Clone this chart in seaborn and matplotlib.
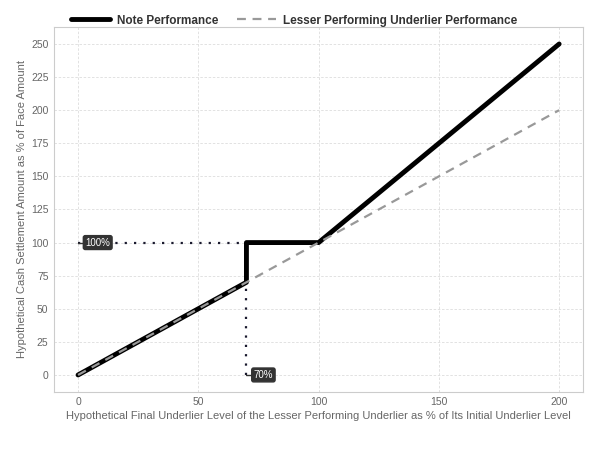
import numpy as np
import pandas as pd
import matplotlib
matplotlib.use("Agg")
import matplotlib.pyplot as plt
import seaborn as sns

# data
underlier_x = [0, 70, 70, 100, 200]
note_y = [0, 70, 100, 100, 250]
underlier_line_x = [0, 200]
underlier_line_y = [0, 200]
barrier_level = 70
face_level = 100
x_ticks = [0, 50, 100, 150, 200]
y_ticks = [0, 25, 50, 75, 100, 125, 150, 175, 200, 225, 250]

sns.set_style("whitegrid")
plt.rcParams['font.family'] = ['Arial', 'Liberation Sans', 'DejaVu Sans']

note_df = pd.DataFrame({"x": underlier_x, "y": note_y})
under_df = pd.DataFrame({"x": underlier_line_x, "y": underlier_line_y})

fig, ax = plt.subplots(figsize=(6, 4.5), dpi=100)
fig.subplots_adjust(left=0.09, right=0.972, top=0.939, bottom=0.13)

# dotted guide lines
ax.plot([0, barrier_level], [face_level, face_level], linestyle=(0, (1, 3.2)), color="#1a1a2e", lw=1.6, zorder=2)
ax.plot([barrier_level, barrier_level], [0, barrier_level], linestyle=(0, (1, 3.2)), color="#1a1a2e", lw=1.6, zorder=2)

sns.lineplot(data=note_df, x="x", y="y", sort=False, estimator=None, color="black", lw=3.5, ax=ax,
             label="Note Performance", zorder=3)
sns.lineplot(data=under_df, x="x", y="y", sort=False, estimator=None, color="#999999", lw=1.6, ax=ax,
             label="Lesser Performing Underlier Performance", zorder=4)
ax.lines[-1].set_dashes((4, 3))

box = dict(boxstyle="round,pad=0.2", fc="#333333", ec="#333333")
ax.text(3, face_level, "100%", color="white", fontsize=7, va="center", ha="left", bbox=box, zorder=5)
ax.text(barrier_level + 3, 0, "70%", color="white", fontsize=7, va="center", ha="left", bbox=box, zorder=5)
ax.plot([0, 2.5], [face_level, face_level], color="#333333", lw=1, zorder=5)
ax.plot([barrier_level, barrier_level + 2.5], [0, 0], color="#333333", lw=1, zorder=5)

ax.set_xlim(-10, 210)
ax.set_ylim(-12.5, 262.5)
ax.set_xticks(x_ticks)
ax.set_yticks(y_ticks)
ax.tick_params(axis="both", labelsize=7.5, colors="#666666", length=0, pad=4)
ax.set_xlabel("Hypothetical Final Underlier Level of the Lesser Performing Underlier as % of Its Initial Underlier Level",
              fontsize=8, color="#666666", labelpad=3)
ax.set_ylabel("Hypothetical Cash Settlement Amount as % of Face Amount", fontsize=8, color="#666666", labelpad=3)
ax.grid(True, color="#dddddd", linestyle=(0, (3, 2)), lw=0.6)
for s in ax.spines.values():
    s.set_color("#cccccc")
    s.set_linewidth(0.8)

ax.legend(loc="lower left", bbox_to_anchor=(0.018, 0.983), ncol=2, frameon=False,
          prop={"weight": "bold", "size": 8.5}, handlelength=3.3, handletextpad=0.6, columnspacing=1.6,
          borderaxespad=0.2, labelcolor="#333333")

fig.savefig("out.png", dpi=100)
